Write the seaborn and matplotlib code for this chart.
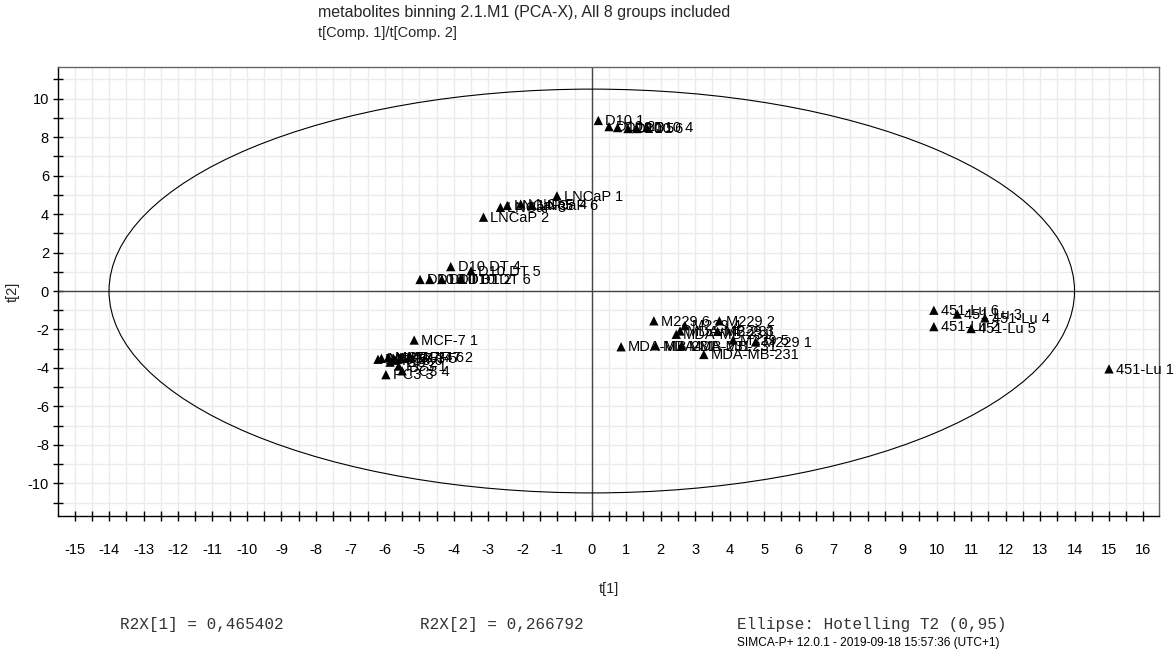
import numpy as np
import pandas as pd
import matplotlib
matplotlib.use("Agg")
import matplotlib.pyplot as plt
from matplotlib.patches import Ellipse
from matplotlib.ticker import MultipleLocator
import seaborn as sns

# ---- data ----
labels = [
    "D10 1", "D10 2", "D10 3", "D10 5", "D10 6", "D10 4",
    "LNCaP 1", "LNCaP 2", "LNCaP 3", "LNCaP 5", "LNCaP 4", "LNCaP 6",
    "D10 DT 4", "D10 DT 5", "D10 DT 3", "D10 DT 1", "D10 DT 2", "D10 DT 6",
    "MCF-7 1", "MCF-7 3", "MCF-7 4", "MCF-7 5", "MCF-7 6", "MCF-7 2",
    "PC3 5", "PC3 2", "PC3 6", "PC3 1", "PC3 3", "PC3 4",
    "M229 6", "M229 4", "M229 3", "M229 2", "M229 5", "M229 1",
    "MDA-MB-231", "MDA-MB-231", "MDA-MB-231", "MDA-MB-231", "MDA-MB-231", "MDA-MB-231",
    "451-Lu 6", "451-Lu 2", "451-Lu 3", "451-Lu 4", "451-Lu 5", "451-Lu 1",
]
t1 = [
    0.19, 0.50, 0.75, 1.05, 1.30, 1.60,
    -1.01, -3.14, -2.65, -2.45, -2.06, -1.74,
    -4.09, -3.50, -4.98, -4.70, -4.35, -3.80,
    -5.15, -6.10, -5.90, -5.75, -5.55, -5.30,
    -6.20, -5.85, -5.70, -5.60, -5.97, -5.50,
    1.80, 2.70, 3.65, 3.70, 4.10, 4.75,
    0.85, 1.85, 2.56, 3.25, 2.45, 2.60,
    9.92, 9.92, 10.60, 11.40, 11.00, 15.00,
]
t2 = [
    8.87, 8.55, 8.50, 8.45, 8.45, 8.50,
    4.95, 3.84, 4.35, 4.45, 4.52, 4.45,
    1.27, 1.05, 0.60, 0.60, 0.60, 0.62,
    -2.55, -3.50, -3.45, -3.50, -3.45, -3.45,
    -3.55, -3.70, -3.60, -3.90, -4.35, -4.15,
    -1.55, -1.80, -2.10, -1.55, -2.55, -2.65,
    -2.90, -2.85, -2.08, -3.30, -2.25, -2.85,
    -1.00, -1.85, -1.20, -1.40, -1.95, -4.05,
]
ellipse_a = 14.0   # Hotelling T2 (0.95) semi-axis along t[1]
ellipse_b = 10.5   # semi-axis along t[2]

title_lines = ["metabolites binning 2.1.M1 (PCA-X), All 8 groups included",
               "t[Comp. 1]/t[Comp. 2]"]
r2x1 = "R2X[1] = 0,465402"
r2x2 = "R2X[2] = 0,266792"
ell_txt = "Ellipse: Hotelling T2 (0,95)"
footer = "SIMCA-P+ 12.0.1 - 2019-09-18 15:57:36 (UTC+1)"

df = pd.DataFrame({"t1": t1, "t2": t2, "label": labels})

sns.set_style("ticks")
plt.rcParams["font.family"] = ["Liberation Sans", "DejaVu Sans"]
plt.rcParams["axes.unicode_minus"] = False

W, H = 1175, 651
fig = plt.figure(figsize=(W / 100, H / 100), dpi=100)
ax = fig.add_axes([58 / W, 1 - 516 / H, (1159 - 58) / W, (516 - 67) / H])

ax.set_xlim(-15.48, 16.45)
ax.set_ylim(-11.7, 11.65)

ax.xaxis.set_major_locator(MultipleLocator(1))
ax.xaxis.set_minor_locator(MultipleLocator(0.5))
ax.yaxis.set_major_locator(MultipleLocator(2))
ax.yaxis.set_minor_locator(MultipleLocator(1))
ax.grid(True, which="both", color="#ebebeb", linewidth=1.0, zorder=0)
ax.set_axisbelow(True)

ax.axhline(0, color="#444444", linewidth=1.0, zorder=1)
ax.axvline(0, color="#444444", linewidth=1.0, zorder=1)
ax.add_patch(Ellipse((0, 0), 2 * ellipse_a, 2 * ellipse_b, fill=False,
                     edgecolor="black", linewidth=0.8, zorder=2))

sns.scatterplot(data=df, x="t1", y="t2", marker="^", color="black", s=45,
                edgecolor="none", ax=ax, legend=False, zorder=3)
for x, y, lab in zip(df["t1"], df["t2"], df["label"]):
    ax.annotate(lab, (x, y), xytext=(5, -0.5), textcoords="offset points",
                ha="left", va="center", fontsize=10.5, color="black", zorder=4,
                annotation_clip=False)

for s in ["top", "right"]:
    ax.spines[s].set_color("#666666")
for s in ["left", "bottom"]:
    ax.spines[s].set_color("black")
for s in ax.spines.values():
    s.set_linewidth(1.0)

ax.tick_params(axis="both", which="both", direction="inout", length=7,
               width=1, colors="black", labelsize=10.5, top=False, right=False)
ax.tick_params(axis="x", pad=16)
ax.tick_params(axis="y", pad=3)

ax.set_xlabel("t[1]", fontsize=10.5, labelpad=18)
ax.set_ylabel("t[2]", fontsize=10.5, labelpad=6)

fig.text(318 / W, 1 - 12 / H, title_lines[0], fontsize=11.5, ha="left", va="center")
fig.text(318 / W, 1 - 33 / H, title_lines[1], fontsize=10.5, ha="left", va="center")

mono = ["Liberation Mono", "DejaVu Sans Mono"]
fig.text(120 / W, 1 - 624 / H, r2x1, family=mono, fontsize=11.5, color="#333333", ha="left", va="center")
fig.text(420 / W, 1 - 624 / H, r2x2, family=mono, fontsize=11.5, color="#333333", ha="left", va="center")
fig.text(737 / W, 1 - 624 / H, ell_txt, family=mono, fontsize=11.5, color="#333333", ha="left", va="center")
fig.text(737 / W, 1 - 643 / H, footer, family=["Liberation Sans Narrow", "Liberation Sans"],
         fontsize=8.6, color="black", ha="left", va="center")

fig.savefig("out.png", dpi=100)
